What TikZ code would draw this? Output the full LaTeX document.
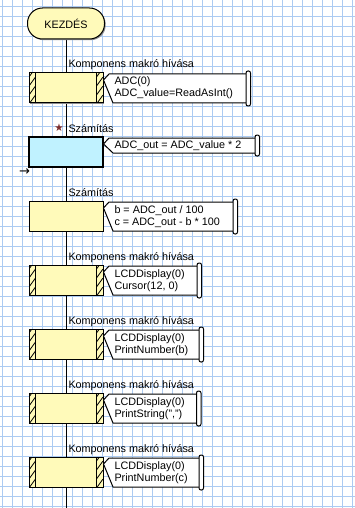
\documentclass[tikz,border=0pt]{standalone}
\usepackage{fontspec}
\setmainfont{Liberation Sans}
\newfontfamily\symfont{DejaVu Sans}
\usetikzlibrary{positioning,calc,shadows,backgrounds}

\definecolor{gridblue}{RGB}{172,203,242}
\definecolor{iconyellow}{RGB}{255,250,186}
\definecolor{calccyan}{RGB}{192,242,255}
\definecolor{starred}{RGB}{125,45,45}

% hatched side strips of a macro call icon
\newcommand{\hatchstrips}[1]{%
  \foreach \side/\dx in {west/0,east/-6.5}{%
    \begin{scope}
      \clip ($(#1.north \side)+(\dx,0)$) rectangle ++(6.5,30);
      \foreach \k in {0,...,4}
        \draw[line width=0.8pt] ($(#1.north \side)+(\dx,\k*9+4)$) -- ++(6.5,-9);
    \end{scope}
    \draw ($(#1.north \side)+(\dx,0)$) rectangle ++(6.5,30);
  }}

% comment balloon of an icon: #1 icon, #2 right edge, #3 depth below icon top
\newcommand{\balloon}[3]{%
  \coordinate (#1-tl) at ($(#1.north east)+(6,1)$);
  \coordinate (#1-tip) at ($(#1.north east)+(0.5,7)$);
  \coordinate (#1-bl) at ($(#1.north east)+(10,#3)$);
  \coordinate (#1-r) at (#2,0);
  \draw[scroll] (#1-tl) -- (#1-tip) -- (#1-bl) -- (#1-bl -| #1-r) -- (#1-tl -| #1-r) -- cycle;
  \draw[scroll, rounded corners=2pt] ($(#1-tl -| #1-r)+(-1.5,-3)$) rectangle ($(#1-bl -| #1-r)+(3,3)$);
}

\begin{document}
\begin{tikzpicture}[x=1pt, y=-1pt, line width=1pt,
  term/.style={draw, fill=iconyellow, rounded corners=15pt, minimum width=77pt,
    minimum height=31pt, inner sep=0pt, font=\fontsize{10.8}{12}\selectfont,
    drop shadow={shadow xshift=1.2pt, shadow yshift=-1.2pt, fill=black!45, opacity=1}},
  icon/.style={draw, fill=iconyellow, minimum width=74pt, minimum height=30pt,
    inner sep=0pt, outer sep=0pt,
    drop shadow={shadow xshift=1.2pt, shadow yshift=-1.2pt, fill=black!45, opacity=1}},
  calcicon/.style={icon, fill=calccyan, line width=2pt},
  lbl/.style={anchor=base west, inner sep=0pt, font=\fontsize{10.8}{12}\selectfont},
  notetxt/.style={lbl, align=left},
  scroll/.style={draw=black, fill=white},
  flow/.style={line width=1pt},
  gridline/.style={gridblue, line width=1pt}]
\useasboundingbox (0,0) rectangle (355,508);

\node[term] (start) at (66,23.5) {KEZDÉS};
\node[icon] (b1) at (66,88) {};
\node[calcicon, below=34pt of b1] (b2) {};
\node[icon, below=34pt of b2] (b3) {};
\node[icon, below=34pt of b3] (b4) {};
\node[icon, below=34pt of b4] (b5) {};
\node[icon, below=34pt of b5] (b6) {};
\node[icon, below=34pt of b6] (b7) {};
\coordinate (end) at (66,508);

\hatchstrips{b1}
\hatchstrips{b4}
\hatchstrips{b5}
\hatchstrips{b6}
\hatchstrips{b7}

\node[lbl] (l1) at ($(b1.north)+(2,-5)$) {Komponens makró hívása};
\node[lbl] (l2) at ($(b2.north)+(2,-5)$) {Számítás};
\node[lbl] (l3) at ($(b3.north)+(2,-5)$) {Számítás};
\node[lbl] (l4) at ($(b4.north)+(2,-5)$) {Komponens makró hívása};
\node[lbl] (l5) at ($(b5.north)+(2,-5)$) {Komponens makró hívása};
\node[lbl] (l6) at ($(b6.north)+(2,-5)$) {Komponens makró hívása};
\node[lbl] (l7) at ($(b7.north)+(2,-5)$) {Komponens makró hívása};
\node[font=\symfont\fontsize{10.5}{10.5}\selectfont, text=starred, inner sep=0pt] (star)
  at ($(l2.base west)+(-9,-4.5)$) {★};
\node[font=\symfont\fontsize{13}{13}\selectfont, inner sep=0pt] (arr) at (24.5,172) {→};

% balloons: the base of a note is the baseline of its last line
\balloon{b1}{247.5}{30}
\node[notetxt] (t1) at ($(b1.north east)+(11,24)$) {ADC(0)\\ADC\_value=ReadAsInt()};
\balloon{b2}{256.5}{16}
\node[notetxt] (t2) at ($(b2.north east)+(11,11.5)$) {ADC\_out = ADC\_value * 2};
\balloon{b3}{234.5}{30}
\node[notetxt] (t3) at ($(b3.north east)+(11,24)$) {b = ADC\_out / 100\\c = ADC\_out - b * 100};
\balloon{b4}{198.5}{30}
\node[notetxt] (t4) at ($(b4.north east)+(11,24)$) {LCDDisplay(0)\\Cursor(12, 0)};
\balloon{b5}{200.5}{30}
\node[notetxt] (t5) at ($(b5.north east)+(11,24)$) {LCDDisplay(0)\\PrintNumber(b)};
\balloon{b6}{198}{30}
\node[notetxt] (t6) at ($(b6.north east)+(11,24)$) {LCDDisplay(0)\\PrintString(",")};
\balloon{b7}{200.5}{30}
\node[notetxt] (t7) at ($(b7.north east)+(11,24)$) {LCDDisplay(0)\\PrintNumber(c)};

\begin{scope}[on background layer]
  \fill[white] (0,0) rectangle (355,508);
  \foreach \gx in {2.5,12.5,...,352.5} \draw[gridline] (\gx,0) -- (\gx,508);
  \foreach \gy in {6.5,16.5,...,506.5} \draw[gridline] (0,\gy) -- (355,\gy);
  \draw[flow] (start) -- (end);
\end{scope}
\end{tikzpicture}
\end{document}
